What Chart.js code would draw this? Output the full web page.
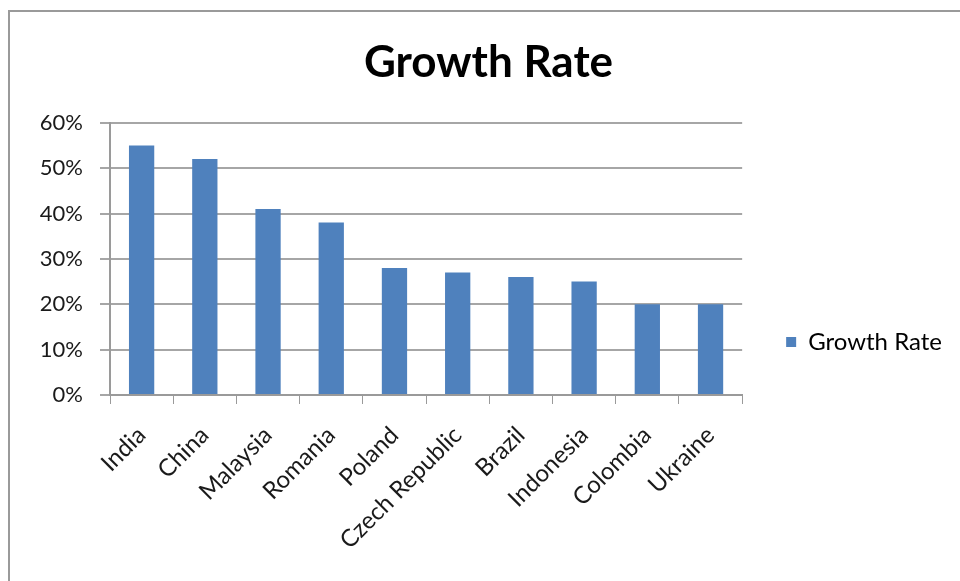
<!DOCTYPE html>
<html>
<head>
<meta charset="utf-8">
<script src="https://cdn.jsdelivr.net/npm/chart.js@4"></script>
<style>
  html, body { margin: 0; padding: 0; background: #ffffff; }
  #wrap { position: relative; width: 960px; height: 581px; overflow: hidden; }
  #frame { position: absolute; left: 8px; top: 10px; width: 960px; height: 600px;
           border-left: 2px solid #9a9a9a; border-top: 2px solid #9a9a9a; }
  #c { position: absolute; left: 0; top: 0; }
</style>
</head>
<body>
<div id="wrap">
  <div id="frame"></div>
  <canvas id="c" width="960" height="581"></canvas>
</div>
<script>
const chartTitle = 'Growth Rate';
const seriesName = 'Growth Rate';
const categories = ['India', 'China', 'Malaysia', 'Romania', 'Poland', 'Czech Republic', 'Brazil', 'Indonesia', 'Colombia', 'Ukraine'];
const growthRate = [0.55, 0.52, 0.41, 0.38, 0.28, 0.27, 0.26, 0.25, 0.20, 0.20];
const yTickValues = [0, 0.1, 0.2, 0.3, 0.4, 0.5, 0.6];

const FONT = 'Lato, "Open Sans", sans-serif';
const PL = 25, PR = 8;

new Chart(document.getElementById('c'), {
  type: 'bar',
  data: {
    labels: categories,
    datasets: [{
      label: seriesName,
      data: growthRate,
      backgroundColor: '#4F81BD',
      borderWidth: 0,
      barPercentage: 0.4,
      categoryPercentage: 1.0
    }]
  },
  options: {
    responsive: false,
    animation: false,
    devicePixelRatio: 1,
    layout: { padding: { left: PL, right: PR, top: 0, bottom: 0 } },
    plugins: {
      title: {
        display: true,
        text: chartTitle,
        color: '#000000',
        font: { family: FONT, size: 44, weight: 'bold', lineHeight: 1.2 },
        padding: { top: 36, bottom: 34 }
      },
      legend: {
        display: true,
        position: 'right',
        title: { display: true, text: '', font: { size: 10, lineHeight: 1.2 }, padding: { top: 91, bottom: 0 } },
        labels: {
          boxWidth: 10, boxHeight: 10, padding: 44,
          color: '#000000',
          font: { family: FONT, size: 24 }
        }
      },
      tooltip: { enabled: false }
    },
    scales: {
      x: {
        grid: { display: true, drawOnChartArea: false, offset: true, tickLength: 9, color: '#9a9a9a', lineWidth: 1 },
        border: { display: true, color: '#9a9a9a', width: 2 },
        ticks: { font: { family: FONT, size: 24 }, color: '#1a1a1a', minRotation: 45, maxRotation: 45, padding: 17, autoSkip: false },
        afterFit: s => { s.height = 186; }
      },
      y: {
        min: 0, max: 0.6,
        afterBuildTicks: s => { s.ticks = yTickValues.map(v => ({ value: v })); },
        grid: { display: true, color: '#a6a6a6', lineWidth: 2, tickLength: 10, drawTicks: true },
        border: { display: true, color: '#9a9a9a', width: 2 },
        ticks: { font: { family: FONT, size: 22 }, color: '#1a1a1a', padding: 17,
                 callback: v => Math.round(v * 100) + '%' },
        afterFit: s => { s.width = 110 - PL; }
      }
    }
  }
});
</script>
</body>
</html>
